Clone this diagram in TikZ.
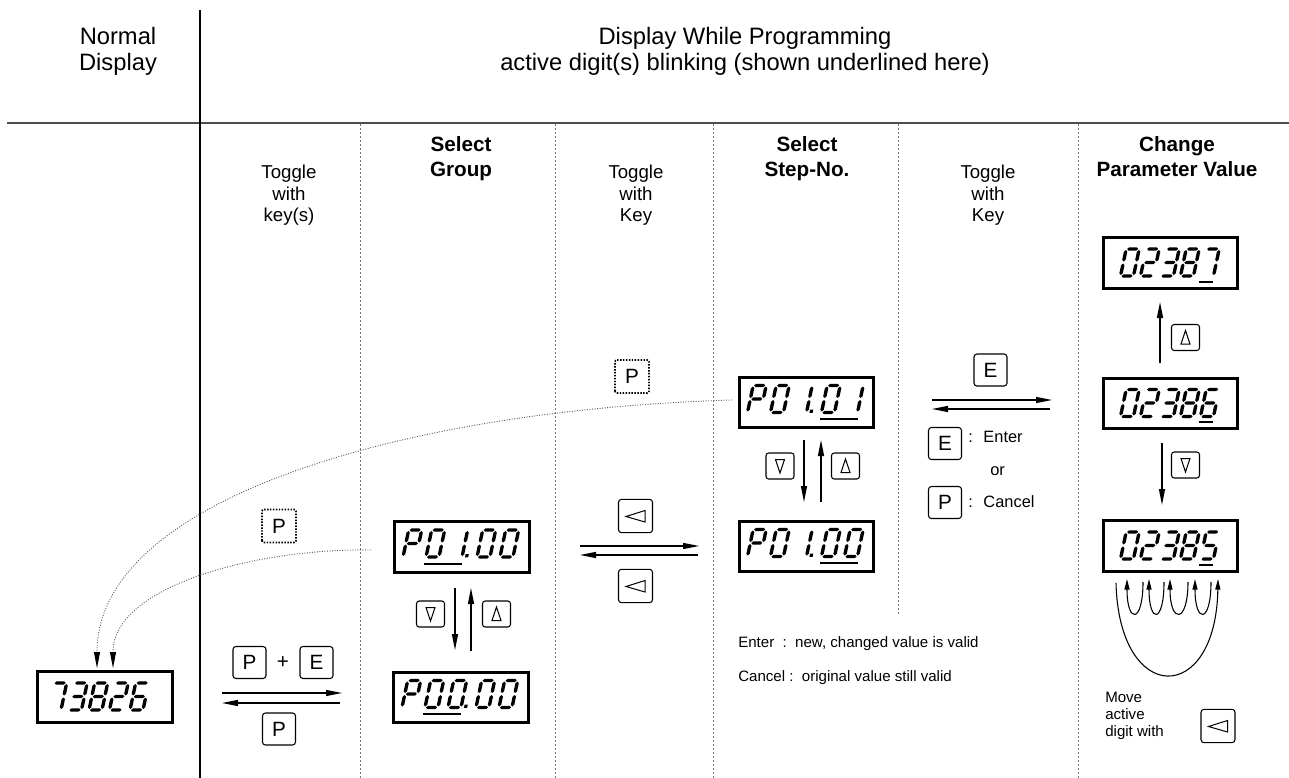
\documentclass[tikz,border=0pt]{standalone}
\usepackage{fontspec}
\setmainfont{Liberation Sans}
\usetikzlibrary{arrows.meta,calc}

% seven-segment helpers (local coords: y down, baseline at 0, top at -27)
\newcommand\SgW{1.7}
\newcommand\SgH[3]{\fill (#1,#3) -- ({#1+\SgW},{#3-\SgW}) -- ({#2-\SgW},{#3-\SgW}) -- (#2,#3) -- ({#2-\SgW},{#3+\SgW}) -- ({#1+\SgW},{#3+\SgW}) -- cycle;}
\newcommand\SgV[3]{\fill (#1,#2) -- ({#1+\SgW},{#2+\SgW}) -- ({#1+\SgW},{#3-\SgW}) -- (#1,#3) -- ({#1-\SgW},{#3-\SgW}) -- ({#1-\SgW},{#2+\SgW}) -- cycle;}
\newcommand\SgA{\SgH{1.0}{12.0}{-27}}
\newcommand\SgB{\SgV{13}{-26.0}{-14.5}}
\newcommand\SgC{\SgV{13}{-12.5}{-1.0}}
\newcommand\SgD{\SgH{1.0}{12.0}{0}}
\newcommand\SgE{\SgV{0}{-12.5}{-1.0}}
\newcommand\SgF{\SgV{0}{-26.0}{-14.5}}
\newcommand\SgG{\SgH{1.0}{12.0}{-13.5}}
\newcommand\DgZero{\SgA\SgB\SgC\SgD\SgE\SgF}
\newcommand\DgOne{\SgB\SgC}
\newcommand\DgTwo{\SgA\SgB\SgG\SgE\SgD}
\newcommand\DgThree{\SgA\SgB\SgG\SgC\SgD}
\newcommand\DgFive{\SgA\SgF\SgG\SgC\SgD}
\newcommand\DgSix{\SgA\SgF\SgG\SgE\SgC\SgD}
\newcommand\DgSeven{\SgA\SgB\SgC}
\newcommand\DgEight{\SgA\SgB\SgC\SgD\SgE\SgF\SgG}
\newcommand\DgP{\SgA\SgB\SgE\SgF\SgG}
\newcommand\DgDot{\fill (16,-3) rectangle (19.2,0.4);}
\newcommand\SevDig[3]{\begin{scope}[shift={(#1,#2)},xslant=0.21]#3\end{scope}}
% key symbols
\newcommand\TriUp[1]{\begin{scope}[shift={(#1.center)}]\draw[tri] (-4.5,6.5) -- (4.5,6.5) -- (0,-7) -- cycle;\end{scope}}
\newcommand\TriDn[1]{\begin{scope}[shift={(#1.center)}]\draw[tri] (-4.5,-6.5) -- (4.5,-6.5) -- (0,7) -- cycle;\end{scope}}
\newcommand\TriLt[1]{\begin{scope}[shift={(#1.center)}]\draw[tri] (9.5,-5.5) -- (-9.5,0.5) -- (9.5,6) -- cycle;\end{scope}}

\begin{document}
\begin{tikzpicture}[x=0.75pt,y=-0.75pt,
  hdr/.style={font=\fontsize{17.8}{20}\selectfont, anchor=base, inner sep=0},
  sub/.style={font=\fontsize{14}{16}\selectfont, anchor=base, inner sep=0},
  bhd/.style={font=\fontsize{15.5}{18}\selectfont\bfseries, anchor=base, inner sep=0},
  note/.style={font=\fontsize{11.3}{14}\selectfont, anchor=base west, inner sep=0},
  legend/.style={font=\fontsize{12.3}{14}\selectfont, anchor=base west, inner sep=0},
  disp/.style={draw, line width=2.2pt, minimum width=101pt, minimum height=38pt, inner sep=0},
  keyP/.style={draw, rounded corners=2.2pt, line width=0.8pt, minimum width=24.75pt, minimum height=24pt, inner sep=0, font=\fontsize{15.5}{18}\selectfont},
  keyS/.style={draw, rounded corners=2pt, line width=0.8pt, minimum width=21pt, minimum height=19.5pt, inner sep=0},
  keyL/.style={draw, rounded corners=2.2pt, line width=0.8pt, minimum width=25.5pt, minimum height=25pt, inner sep=0},
  keyD/.style={keyP, draw=none},
  tri/.style={line width=0.75pt, line join=miter},
  arr/.style={line width=0.9pt, -{Triangle[length=12pt,width=4.5pt]}},
  larr/.style={line width=0.8pt, -{Triangle[length=8pt,width=3.8pt]}},
  dcurve/.style={draw=black!65, line width=0.7pt, dash pattern=on 0.7pt off 1.2pt, -{Triangle[length=12pt,width=4.5pt,color=black]}},
  dashdiv/.style={draw=black!55, line width=0.6pt, dash pattern=on 1.5pt off 1.5pt},
  uline/.style={line width=1.5pt},
  dotbox/.style={line width=1.3pt, dash pattern=on 1.1pt off 1.1pt, rounded corners=1.5pt}
]
\useasboundingbox (0,0) rectangle (1289,778);

% ---------- frame ----------
\draw[line width=1pt, black!70] (7,123) -- (1289,123);
\draw[line width=2.2pt] (200,10) -- (200,778);
\foreach \xx in {360,555,713,1078} \draw[dashdiv] (\xx,124) -- (\xx,778);
\draw[dashdiv] (898,124) -- (898,614);

% ---------- headers ----------
\node[hdr] (h1) at (118,44) {Normal};
\node[hdr] (h2) at (118,70) {Display};
\node[hdr] (h3) at (745,44) {Display While Programming};
\node[hdr] (h4) at (745,70) {active digit(s) blinking (shown underlined here)};

\node[sub] (c1a) at (289,178) {Toggle};
\node[sub] (c1b) at (289,200) {with};
\node[sub] (c1c) at (289,221) {key(s)};
\node[bhd] (c2a) at (461,151) {Select};
\node[bhd] (c2b) at (461,176) {Group};
\node[sub] (c3a) at (636,178) {Toggle};
\node[sub] (c3b) at (636,200) {with};
\node[sub] (c3c) at (636,221) {Key};
\node[bhd] (c4a) at (807,151) {Select};
\node[bhd] (c4b) at (807,176) {Step-No.};
\node[sub] (c5a) at (988,178) {Toggle};
\node[sub] (c5b) at (988,200) {with};
\node[sub] (c5c) at (988,221) {Key};
\node[bhd] (c6a) at (1177,151) {Change};
\node[bhd] (c6b) at (1177,176) {Parameter Value};

% ---------- displays ----------
\node[disp] (nd) at (105,697) {};
\node[disp] (g1) at (462,547) {};
\node[disp] (g2) at (461,697.5) {};
\node[disp] (s1) at (806.5,402.5) {};
\node[disp] (s2) at (806.5,546.5) {};
\node[disp] (v1) at (1170.5,263) {};
\node[disp] (v2) at (1170.5,403.5) {};
\node[disp] (v3) at (1170.5,546) {};

% 73826
\SevDig{48}{710}{\DgSeven}
\SevDig{68.5}{710}{\DgThree}
\SevDig{89}{710}{\DgEight}
\SevDig{109.5}{710}{\DgTwo}
\SevDig{130}{710}{\DgSix}
% P01.00 (group)
\SevDig{403}{557}{\DgP}
\SevDig{426}{557}{\DgZero}
\SevDig{449}{557}{\DgOne\DgDot}
\SevDig{477}{557}{\DgZero}
\SevDig{500}{557}{\DgZero}
\draw[uline] (424,563.5) -- (462,563.5);
% P00.00
\SevDig{402}{707.5}{\DgP}
\SevDig{425}{707.5}{\DgZero}
\SevDig{448}{707.5}{\DgZero\DgDot}
\SevDig{476}{707.5}{\DgZero}
\SevDig{499}{707.5}{\DgZero}
\draw[uline] (423,714) -- (461,714);
% P01.01
\SevDig{747.5}{412.5}{\DgP}
\SevDig{770.5}{412.5}{\DgZero}
\SevDig{793.5}{412.5}{\DgOne\DgDot}
\SevDig{821.5}{412.5}{\DgZero}
\SevDig{844.5}{412.5}{\DgOne}
\draw[uline] (820,419) -- (858,419);
% P01.00 (step)
\SevDig{747.5}{556.5}{\DgP}
\SevDig{770.5}{556.5}{\DgZero}
\SevDig{793.5}{556.5}{\DgOne\DgDot}
\SevDig{821.5}{556.5}{\DgZero}
\SevDig{844.5}{556.5}{\DgZero}
\draw[uline] (820,563) -- (858,563);
% 02387
\SevDig{1120.5}{276}{\DgZero}
\SevDig{1140.5}{276}{\DgTwo}
\SevDig{1160.5}{276}{\DgThree}
\SevDig{1180.5}{276}{\DgEight}
\SevDig{1200.5}{276}{\DgSeven}
\draw[uline] (1198.5,281.5) -- (1212.5,281.5);
% 02386
\SevDig{1120.5}{416.5}{\DgZero}
\SevDig{1140.5}{416.5}{\DgTwo}
\SevDig{1160.5}{416.5}{\DgThree}
\SevDig{1180.5}{416.5}{\DgEight}
\SevDig{1200.5}{416.5}{\DgSix}
\draw[uline] (1198.5,422) -- (1212.5,422);
% 02385
\SevDig{1120.5}{559}{\DgZero}
\SevDig{1140.5}{559}{\DgTwo}
\SevDig{1160.5}{559}{\DgThree}
\SevDig{1180.5}{559}{\DgEight}
\SevDig{1200.5}{559}{\DgFive}
\draw[uline] (1198.5,564.5) -- (1212.5,564.5);

% ---------- column 1: toggle with key(s) ----------
\node[keyP] (k1) at (249.5,662.5) {P};
\node[font=\fontsize{15.5}{18}\selectfont, inner sep=0] (plus) at (283,663) {+};
\node[keyP] (k2) at (316.5,662.5) {E};
\node[keyP] (k3) at (279,729) {P};
\coordinate (a1s) at (222,693); \coordinate (a1e) at (342,693);
\coordinate (a2s) at (340,703); \coordinate (a2e) at (222,703);
\draw[arr] (a1s) -- (a1e);
\draw[arr] (a2s) -- (a2e);

\node[keyD] (kd1) at (279,526) {P};
\draw[dotbox] (kd1.south west) rectangle (kd1.north east);
\node[keyD] (kd2) at (632,376.5) {P};
\draw[dotbox] (kd2.south west) rectangle (kd2.north east);

% dotted return curves
\coordinate (c1s) at (732,400); \coordinate (c1e) at (97,668);
\coordinate (c2s) at (371,550); \coordinate (c2e) at (113,668);
\draw[dcurve] (c1s) .. controls (400,410) and (97,500) .. (c1e);
\draw[dcurve] (c2s) .. controls (260,548) and (113,585) .. (c2e);

% ---------- group column ----------
\node[keyS] (gk1) at (430.5,614) {}; \TriDn{gk1}
\node[keyS] (gk2) at (496.5,614) {}; \TriUp{gk2}
\coordinate (gds) at (455,588); \coordinate (gde) at (455,650);
\coordinate (gus) at (471,651); \coordinate (gue) at (471,588);
\draw[arr] (gds) -- (gde);
\draw[arr] (gus) -- (gue);

% ---------- column 3: toggle with key ----------
\node[keyL] (tk1) at (635.5,516) {}; \TriLt{tk1}
\node[keyL] (tk2) at (635.5,586) {}; \TriLt{tk2}
\coordinate (t1s) at (580,546); \coordinate (t1e) at (699,546);
\coordinate (t2s) at (698,555); \coordinate (t2e) at (580,555);
\draw[arr] (t1s) -- (t1e);
\draw[arr] (t2s) -- (t2e);

% ---------- step column ----------
\node[keyS] (sk1) at (780,466) {}; \TriDn{sk1}
\node[keyS] (sk2) at (845.5,466) {}; \TriUp{sk2}
\coordinate (sds) at (804,440); \coordinate (sde) at (804,502);
\coordinate (sus) at (821,502); \coordinate (sue) at (821,440);
\draw[arr] (sds) -- (sde);
\draw[arr] (sus) -- (sue);

% ---------- column 5: E / P ----------
\node[keyP] (ek) at (990.5,370) {E};
\coordinate (e1s) at (932,400); \coordinate (e1e) at (1052,400);
\coordinate (e2s) at (1050,409); \coordinate (e2e) at (932,409);
\draw[arr] (e1s) -- (e1e);
\draw[arr] (e2s) -- (e2e);
\node[keyP] (ek2) at (945,443.5) {E};
\node[legend] (lt1) at (968,442) {:\hspace{8pt}Enter};
\node[legend] (lt2) at (990,475) {or};
\node[keyP] (pk2) at (945,502.5) {P};
\node[legend] (lt3) at (968,507) {:\hspace{8pt}Cancel};

\node[note] (n1) at (738,647) {Enter\ \ :\ \ new, changed value is valid};
\node[note] (n2) at (738,681) {Cancel :\ \ original value still valid};

% ---------- change column ----------
\node[keyS] (vk1) at (1185.5,337.5) {}; \TriUp{vk1}
\node[keyS] (vk2) at (1185.5,465) {}; \TriDn{vk2}
\coordinate (vus) at (1160,363); \coordinate (vue) at (1160,302);
\coordinate (vds) at (1162,443); \coordinate (vde) at (1162,505);
\draw[arr] (vus) -- (vue);
\draw[arr] (vds) -- (vde);

% digit-move loops
\coordinate (m1s) at (1143,582); \coordinate (m1e) at (1127,579);
\coordinate (m2s) at (1164,582); \coordinate (m2e) at (1149,579);
\coordinate (m3s) at (1188,582); \coordinate (m3e) at (1170,579);
\coordinate (m4s) at (1211,582); \coordinate (m4e) at (1195,579);
\coordinate (m5s) at (1116,583); \coordinate (m5e) at (1218,579);
\draw[larr] (m1s) .. controls (1143,624) and (1127,624) .. (m1e);
\draw[larr] (m2s) .. controls (1164,624) and (1149,624) .. (m2e);
\draw[larr] (m3s) .. controls (1188,624) and (1170,624) .. (m3e);
\draw[larr] (m4s) .. controls (1211,624) and (1195,624) .. (m4e);
\draw[larr] (m5s) .. controls (1119,706) and (1216,706) .. (m5e);

\node[note] (mv1) at (1105,702) {Move};
\node[note] (mv2) at (1105,719) {active};
\node[note] (mv3) at (1105,736) {digit with};
\node[keyL] (mk) at (1218,726) {}; \TriLt{mk}

\end{tikzpicture}
\end{document}
